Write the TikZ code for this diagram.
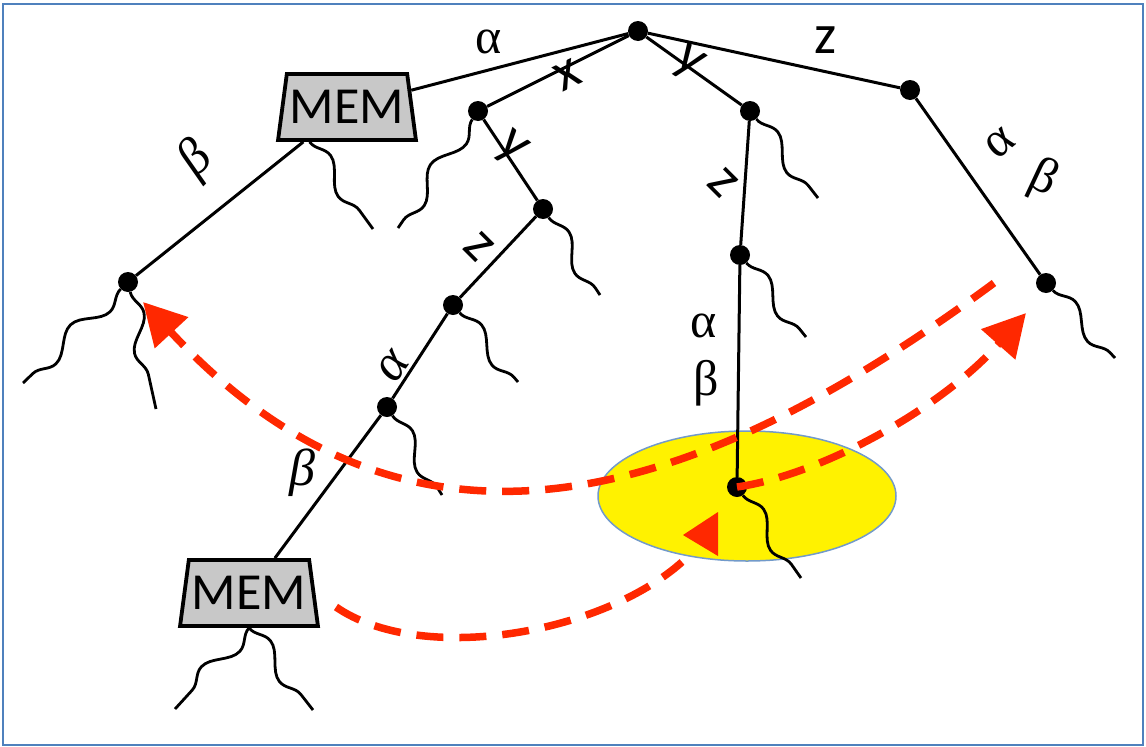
\documentclass[tikz,border=0pt]{standalone}
\usepackage{fontspec}
\setmainfont{Carlito}
\newfontfamily\grk{Liberation Serif}
\usepackage{xcolor}
\usepackage{tikz}
\usetikzlibrary{shapes.geometric, arrows.meta, decorations.pathmorphing}

\definecolor{flowred}{RGB}{255,40,0}
\definecolor{frameblue}{RGB}{79,129,189}
\definecolor{memgray}{RGB}{200,200,200}

\begin{document}
\begin{tikzpicture}[x=1pt, y=-1pt,
    dot/.style={circle, fill=black, inner sep=0pt, minimum size=20pt},
    mem/.style={trapezium, trapezium left angle=76, trapezium right angle=76,
        trapezium stretches=true, draw, line width=3.8pt, fill=memgray,
        minimum width=138pt, minimum height=66pt, inner sep=0pt,
        font=\fontsize{52}{52}\selectfont},
    branch/.style={line width=3pt},
    wig/.style={line width=2.8pt, decorate,
        decoration={snake, amplitude=9pt, segment length=75pt}},
    lbl/.style={inner sep=0pt, font=\fontsize{56}{56}\selectfont},
    glbl/.style={inner sep=0pt, font=\fontsize{50}{50}\selectfont\grk},
    ilbl/.style={inner sep=0pt, font=\fontsize{52}{52}\selectfont\grk\itshape},
    flow/.style={flowred, line width=7.5pt, dash pattern=on 27pt off 16pt}]
    \useasboundingbox (0,0) rectangle (1146,747);

    % Frame
    \draw[frameblue, line width=2.5pt] (3,4) rectangle (1143,745);

    % Highlighted region
    \filldraw[fill=yellow, draw=frameblue!80, line width=1.5pt]
        (747,496) ellipse [x radius=149pt, y radius=65pt];

    % Tree nodes
    \node[dot] (root) at (638,31) {};
    \node[mem] (memA) at (347,107) {MEM};
    \node[dot] (x1) at (478,111) {};
    \node[dot] (y1) at (750,111) {};
    \node[dot] (z1) at (910,90) {};
    \node[dot] (zl) at (1046,283) {};
    \node[dot] (lf) at (128,282) {};
    \node[dot] (xy) at (543,209) {};
    \node[dot] (xyz) at (453,305) {};
    \node[dot] (xyza) at (387,407) {};
    \node[mem] (memB) at (249,593) {MEM};
    \node[dot] (yz) at (740,255) {};
    \node[dot] (yzab) at (737,487) {};

    % Branches
    \draw[branch] (root) -- (memA);
    \draw[branch] (root) -- (x1);
    \draw[branch] (root) -- (y1);
    \draw[branch] (root) -- (z1);
    \draw[branch] (z1) -- (zl);
    \draw[branch] (memA) -- (lf);
    \draw[branch] (x1) -- (xy);
    \draw[branch] (xy) -- (xyz);
    \draw[branch] (xyz) -- (xyza);
    \draw[branch] (xyza) -- (memB);
    \draw[branch] (y1) -- (yz);
    \draw[branch] (yz) -- (yzab);

    % Branch labels
    \node[glbl] (la) at (489,42) {α};
    \node[lbl, rotate=26] (lx) at (568,75) {x};
    \node[lbl, rotate=-35] (ly1) at (688,64) {y};
    \node[lbl] (lz1) at (826,40) {z};
    \node[glbl, rotate=40] (la2) at (1000,143) {α};
    \node[glbl, rotate=-25] (lb2) at (1043,180) {β};
    \node[ilbl, rotate=45] (lb1) at (197,160) {β};
    \node[lbl, rotate=-40] (ly2) at (511,149) {y};
    \node[lbl, rotate=-45] (lz2) at (479,247) {z};
    \node[ilbl, rotate=55] (la3) at (393,366) {α};
    \node[ilbl] (lb3) at (302,473) {β};
    \node[lbl, rotate=-45] (lz3) at (723,183) {z};
    \node[glbl] (la4) at (704,326) {α};
    \node[glbl] (lb4) at (706,383) {β};

    % Subtrees
    \coordinate (wA) at (373,229);
    \coordinate (wx1) at (398,228);
    \coordinate (wxy) at (600,295);
    \coordinate (wxyz) at (518,382);
    \coordinate (wxyza) at (442,495);
    \coordinate (wy1) at (818,198);
    \coordinate (wyz) at (806,337);
    \coordinate (wzl) at (1115,358);
    \coordinate (wyzab) at (801,578);
    \coordinate (wlf1) at (23,383);
    \coordinate (wlf2) at (156,409);
    \coordinate (wB1) at (175,709);
    \coordinate (wB2) at (313,710);
    \draw[wig] (memA.-137) -- (wA);
    \draw[wig] (x1) -- (wx1);
    \draw[wig] (xy) -- (wxy);
    \draw[wig] (xyz) -- (wxyz);
    \draw[wig] (xyza) -- (wxyza);
    \draw[wig] (y1) -- (wy1);
    \draw[wig] (yz) -- (wyz);
    \draw[wig] (zl) -- (wzl);
    \draw[wig] (yzab) -- (wyzab);
    \draw[wig] (lf) -- (wlf1);
    \draw[wig] (lf) -- (wlf2);
    \draw[wig] (memB.south) -- (wB1);
    \draw[wig] (memB.south) -- (wB2);

    % Reuse arrows
    \coordinate (fa1) at (994,283);
    \coordinate (fa2) at (143,302);
    \coordinate (fb1) at (336,607);
    \coordinate (fb2) at (682,562);
    \coordinate (fc2) at (1026,313);
    \draw[flow, -{Triangle[length=42pt, width=44pt]}]
        (fa1) .. controls (700,500) and (415,595) .. (fa2);
    \draw[flow, -{Triangle[length=42pt, width=44pt]}]
        (yzab.center) .. controls (820,475) and (940,410) .. (fc2);
    \draw[flow] (fb1) .. controls (420,665) and (600,635) .. (fb2);
    \fill[flowred] (683,535) -- (718,512) -- (718,556) -- cycle;
\end{tikzpicture}
\end{document}
